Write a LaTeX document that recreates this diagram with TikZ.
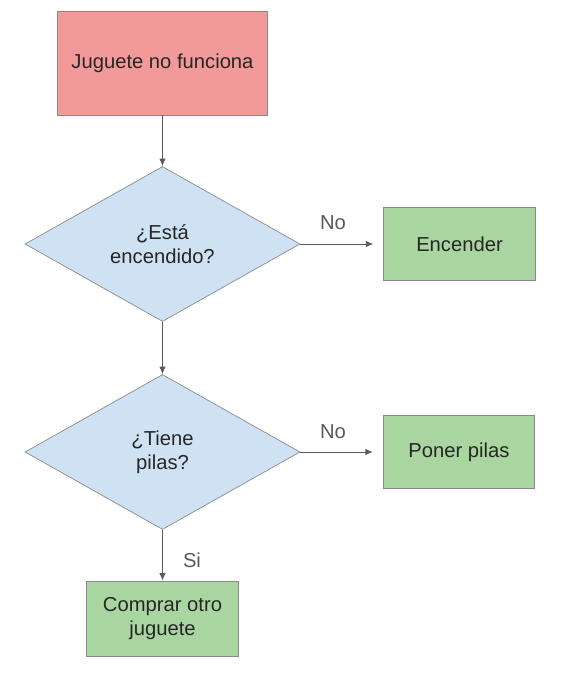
\documentclass[tikz,border=0pt]{standalone}
\usepackage{fontspec}
\setmainfont{Liberation Sans}
\usetikzlibrary{arrows.meta,shapes.geometric}
\definecolor{startred}{HTML}{F29A9A}
\definecolor{askblue}{HTML}{CFE2F3}
\definecolor{dogreen}{HTML}{A9D6A0}
\definecolor{edgegray}{HTML}{8A8A8A}
\definecolor{linegray}{HTML}{5A5A5A}
\tikzset{
  start/.style  = {rectangle, draw=edgegray, line width=0.5pt, fill=startred,
                   minimum width=4.2cm, minimum height=2.08cm, align=center,
                   font=\fontsize{11.5}{13.6}\selectfont, text=black!85},
  ask/.style    = {diamond, draw=edgegray, line width=0.4pt, fill=askblue, inner sep=0pt,
                   minimum width=5.5cm, minimum height=3.1cm, align=center,
                   font=\fontsize{11.5}{13.6}\selectfont, text=black!85},
  action/.style = {rectangle, draw=edgegray, line width=0.5pt, fill=dogreen,
                   minimum width=3.03cm, minimum height=1.46cm, align=center,
                   font=\fontsize{11.5}{13.6}\selectfont, text=black!85},
  answer/.style = {font=\fontsize{11.5}{13.6}\selectfont, text=black!65},
  flow/.style   = {-{Latex[length=1.5mm, width=1.3mm]}, draw=linegray, line width=0.5pt},
}

\begin{document}
\begin{tikzpicture}
      \useasboundingbox (0,0) rectangle (11.56,-13.72);
      \node[start]  (broken)  at (3.25, -1.26)  {Juguete no funciona};
      \node[ask]    (ison)    at (3.25, -4.88)  {¿Está\\encendido?};
      \node[action] (turnon)  at (9.19, -4.88)  {Encender};
      \node[ask]    (battery) at (3.25, -9.04)  {¿Tiene\\pilas?};
      \node[action] (putbat)  at (9.18, -9.04)  {Poner pilas};
      \node[action, minimum height=1.5cm] (buynew) at (3.25, -12.37) {Comprar otro\\juguete};
      \node[answer] (no1)  at (6.66, -4.46)  {No};
      \node[answer] (no2)  at (6.66, -8.64)  {No};
      \node[answer] (yes)  at (3.84, -11.2)  {Si};
      \draw[flow] (broken) -- (ison);
      \draw[flow, shorten >=0.2cm] (ison) -- (turnon);
      \draw[flow] (ison) -- (battery);
      \draw[flow, shorten >=0.2cm] (battery) -- (putbat);
      \draw[flow] (battery) -- (buynew);
    \end{tikzpicture}
\end{document}
